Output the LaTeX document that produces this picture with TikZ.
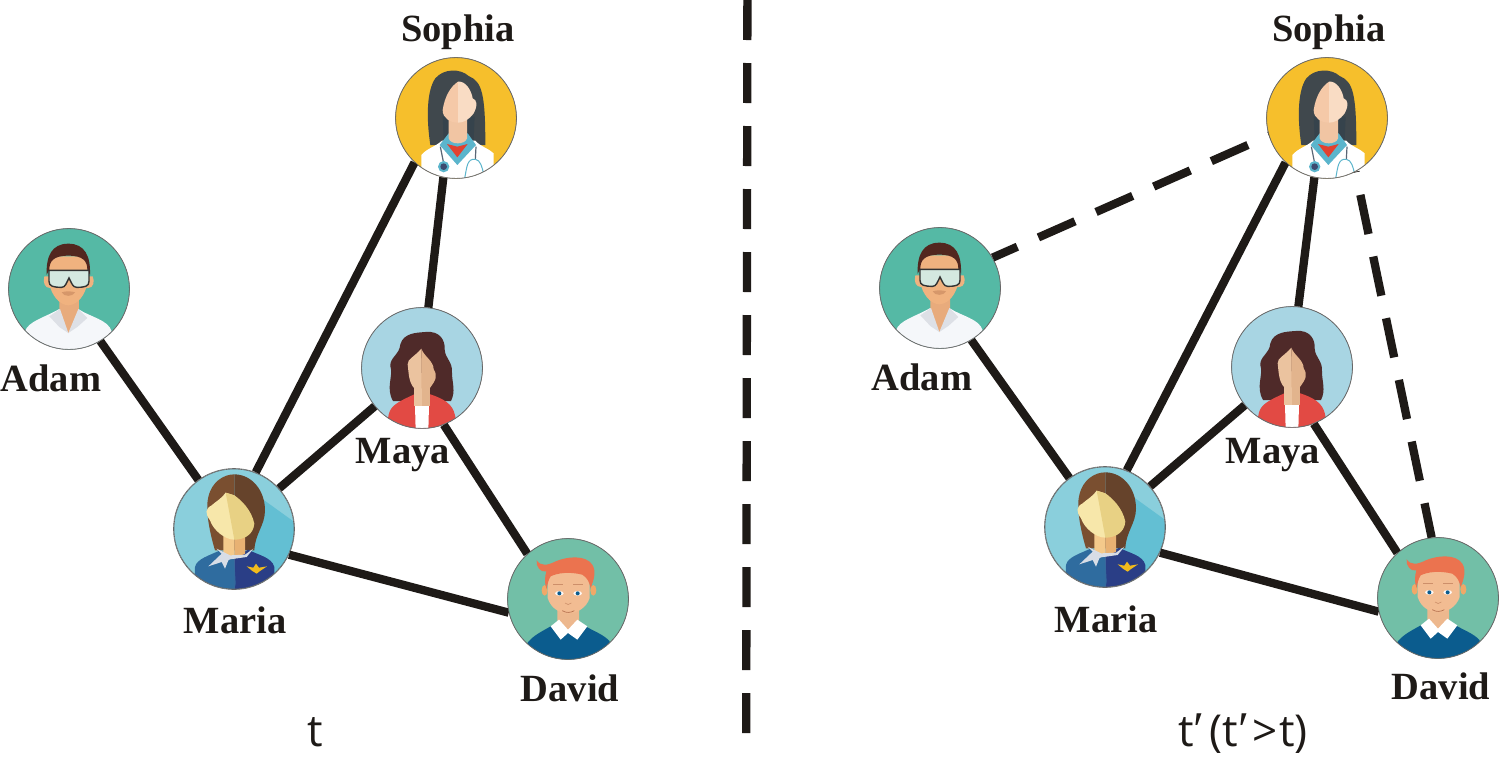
\documentclass[tikz,border=0pt]{standalone}
\usepackage{fontspec}
\setmainfont{Liberation Serif}
\newfontfamily\capfont{Open Sans}
\newfontfamily\primefont{Liberation Serif}
\newcommand{\prm}{{\primefont\fontsize{50}{50}\selectfont ′}}
\definecolor{ink}{HTML}{1E1A17}
\tikzset{
  person/.style={circle,draw=gray!80!black,line width=.6pt,minimum size=121pt,inner sep=0pt,fill=white},
  link/.style={draw=ink,line width=8.3pt},
  future/.style={draw=ink,line width=8.3pt,dash pattern=on 40pt off 23pt},
  whoname/.style={font=\fontsize{38.5}{42}\selectfont\bfseries,text=ink,inner sep=0pt,anchor=base},
  timecap/.style={font=\capfont\fontsize{44}{48}\selectfont,text=ink,inner sep=0pt,anchor=base},
}
% #1,#2 centre; #3,#4 centre in the drawing's own frame; #5 radius; #6 ground; #7 drawing
\newcommand{\faceframe}[7]{%
  \begin{scope}[shift={(#1,#2)},x=0.3333pt,y=-0.3333pt]
  \begin{scope}[shift={(-#3,-#4)}]
    \clip (#3,#4) circle (#5);
    \fill[#6] (#3,#4) circle (#5);
    #7
  \end{scope}
  \draw[gray!80!black,line width=.6pt] (0,0) circle (#5);
  \end{scope}}
\newcommand{\adamface}[2]{\faceframe{#1}{#2}{207}{208}{181}{fill=Tadam}{%
  \fill[Tadamb] (70,400)--(75,335) .. controls (85,305) and (130,295) .. (178,268) -- (235,268) .. controls (270,292) and (325,300) .. (335,335) -- (340,400)--cycle;
  \fill[Tadamn] (178,215)--(237,215)--(237,285)--(205,340)--(178,285)--cycle;
  \fill[Tadamc] (148,290)--(180,268)--(205,340)--(178,322)--cycle;
  \fill[Tadamc] (262,295)--(235,268)--(205,340)--(232,322)--cycle;
  \fill[Tadamf] (133,170) .. controls (128,190) and (135,205) .. (150,205) -- (265,205) .. controls (280,205) and (285,185) .. (278,170) -- cycle;
  \fill[Tadamf] (147,110) -- (263,110) -- (263,190) .. controls (255,225) and (235,255) .. (205,257) .. controls (175,255) and (155,225) .. (147,190) -- cycle;
  \fill[Tadamh] (140,165) .. controls (138,110) and (155,72) .. (205,72) .. controls (255,72) and (272,110) .. (270,165) -- (262,150) .. controls (262,125) and (250,108) .. (205,108) .. controls (160,108) and (148,125) .. (148,150) -- cycle;
  \fill[Tadamg,draw=black!80,line width=1.4pt] (147,152)--(267,152)--(267,185) .. controls (267,200) and (255,203) .. (230,203) .. controls (218,203) and (215,190) .. (207,175) .. controls (199,190) and (196,203) .. (185,203) .. controls (160,203) and (147,200) .. (147,185) -- cycle;
  \fill[Tadamm] (185,218) .. controls (195,214) and (215,214) .. (225,218) .. controls (218,232) and (192,232) .. (185,218) -- cycle;
}}
\newcommand{\sophiaface}[2]{\faceframe{#1}{#2}{212}{204}{181}{fill=Tsoph}{%
  \fill[Tsophh] (135,285) .. controls (122,200) and (125,120) .. (150,85) .. controls (175,55) and (225,55) .. (250,78) .. controls (290,95) and (300,130) .. (300,285) -- cycle;
  \fill[Tsophd] (172,200)--(268,200)--(265,270)--(175,270)--cycle;
  \fill[white] (108,315) .. controls (125,295) and (150,290) .. (170,272) -- (270,272) .. controls (285,290) and (310,295) .. (325,310) -- (325,400)--(108,400)--cycle;
  \fill[Tsophc] (163,285)--(190,250)--(247,250)--(272,285)--(216,345)--cycle;
  \fill[Tsophr] (185,282)--(216,290)--(247,282)--(216,322)--cycle;
  \fill[Tsophn] (190,205)--(245,205)--(245,265) .. controls (240,285) and (195,285) .. (190,265) --cycle;
  \fill[Tsophf] (218,95) .. controls (195,110) and (178,140) .. (172,180) .. controls (172,205) and (195,218) .. (218,218) -- cycle;
  \fill[Tsophl] (218,95) .. controls (240,92) and (258,120) .. (262,145) .. controls (275,150) and (278,165) .. (265,190) .. controls (250,210) and (235,218) .. (218,218) -- cycle;
  \draw[Tsophs,line width=1.2pt] (165,290)--(175,340);
  \fill[Tsophc] (175,350) circle (17);
  \fill[Tsophi] (175,350) circle (10);
  \draw[Tsophs,line width=1.2pt] (272,290)--(270,328);
  \draw[Tsophc,line width=1pt] (270,328) .. controls (245,325) and (245,350) .. (238,385);
  \draw[Tsophc,line width=1pt] (270,328) .. controls (285,330) and (290,350) .. (295,372);
}}
\newcommand{\mayaface}[2]{\faceframe{#1}{#2}{215}{201}{181}{fill=Tmaya}{%
  \fill[Tmayah] (128,300) .. controls (105,260) and (130,225) .. (120,195) .. controls (118,170) and (148,160) .. (150,130) .. controls (160,95) and (200,95) .. (225,93) .. controls (270,88) and (285,120) .. (283,145) .. controls (285,175) and (307,180) .. (305,215) .. controls (305,245) and (317,270) .. (302,300) -- cycle;
  \fill[Tmayar] (113,352) .. controls (118,320) and (125,310) .. (192,280) -- (240,280) .. controls (300,300) and (310,320) .. (316,352) -- (215,400)--cycle;
  \fill[white] (194,312)--(236,312)--(234,390)--(196,390)--cycle;
  \fill[Tmayaf] (190,240)--(215,240)--(215,315)--(190,315)--cycle;
  \fill[Tmayad] (215,240)--(238,240)--(238,315)--(215,315)--cycle;
  \fill[Tmayaf] (213,143) .. controls (195,165) and (170,175) .. (172,190) .. controls (175,215) and (175,245) .. (192,262) -- (215,262) -- cycle;
  \fill[Tmayad] (213,143) .. controls (220,165) and (250,180) .. (250,205) .. controls (262,225) and (258,235) .. (238,262) -- (213,262) -- cycle;
}}
\newcommand{\mariaface}[2]{\faceframe{#1}{#2}{207}{206}{180}{fill=Tmari}{%
  \fill[Tmarid] (270,100)--(395,190)--(395,395)--(250,395)--cycle;
  \fill[Tmarih] (150,270) .. controls (135,220) and (120,150) .. (130,110) .. controls (140,65) and (175,42) .. (208,42) -- (208,270) -- cycle;
  \fill[Tmarik] (208,42) .. controls (260,42) and (300,90) .. (300,150) .. controls (300,195) and (270,220) .. (268,270) -- (208,270) -- cycle;
  \fill[Tmarib] (88,400)--(90,320) .. controls (95,295) and (135,285) .. (165,270) -- (208,290)--(208,400)--cycle;
  \fill[Tmarin] (208,290)--(250,268) .. controls (280,285) and (320,290) .. (328,320) -- (328,400)--(208,400)--cycle;
  \fill[Tmaril] (175,215)--(208,215)--(208,295)--(175,280)--cycle;
  \fill[Tmarim] (208,215)--(240,215)--(240,280)--(208,295)--cycle;
  \fill[Tmarie] (182,97) .. controls (170,115) and (150,125) .. (140,135) .. controls (120,145) and (120,160) .. (135,180) .. controls (145,210) and (180,238) .. (208,238) -- (208,105) -- cycle;
  \fill[Tmarig] (182,97) -- (208,105) .. controls (230,120) and (260,150) .. (268,190) .. controls (265,225) and (235,238) .. (208,238) -- cycle;
  \fill[Tmaris] (155,265)--(195,285)--(240,283)--(265,265)--(245,290)--(195,297)--(190,300)--(180,325)--(170,305)--(130,318)--(170,280)--cycle;
  \fill[Tmaria] (245,318)--(265,322)--(273,310)--(282,322)--(306,318)--(285,332)--(275,340)--(262,332)--cycle;
  \fill[Tmarib] (208,300)--(212,370)--(208,388)--cycle;
}}
\newcommand{\davidface}[2]{\faceframe{#1}{#2}{207}{208}{181}{fill=Tdavi}{%
  \fill[Tdavib] (85,340) .. controls (105,315) and (130,305) .. (155,290) -- (260,290) .. controls (285,305) and (315,315) .. (332,335) -- (332,400)--(85,400)--cycle;
  \fill[Tdavin] (175,235)--(240,235)--(240,285)--(207,302)--(175,285)--cycle;
  \fill[white] (155,290)--(180,270)--(207,300)--(235,270)--(265,290)--(235,330)--(207,310)--(185,330)--cycle;
  \fill[Tdavie] (137,182) ellipse (9 and 16);
  \fill[Tdavie] (283,182) ellipse (9 and 16);
  \fill[Tdavif] (146,130)--(272,130)--(272,205) .. controls (262,235) and (235,250) .. (208,252) .. controls (180,250) and (155,235) .. (146,205) -- cycle;
  \fill[Tdavih] (113,92) .. controls (125,110) and (145,108) .. (170,95) .. controls (205,80) and (260,75) .. (280,105) .. controls (292,125) and (285,150) .. (275,175) .. controls (270,155) and (265,145) .. (250,135) .. controls (210,125) and (175,130) .. (155,140) .. controls (148,150) and (145,165) .. (143,178) .. controls (135,160) and (138,140) .. (142,125) .. controls (125,130) and (110,110) .. (113,92) -- cycle;
  \draw[Tdavir!60!Tdavif,line width=.7pt] (163,165)--(192,165);
  \draw[Tdavir!60!Tdavif,line width=.7pt] (222,165)--(252,165);
  \fill[white!90!Tdavif] (181,191) ellipse (13 and 7);
  \fill[white!90!Tdavif] (236,191) ellipse (13 and 7);
  \fill[Tdavib] (181,191) circle (6);
  \fill[Tdavib] (236,191) circle (6);
  \draw[Tdavir!60!Tdavif,line width=.6pt] (198,220) .. controls (203,226) and (212,226) .. (217,220);
  \draw[Tdavir,line width=.7pt] (190,243) .. controls (200,250) and (215,250) .. (226,243);
}}
\definecolor{Tadam}{HTML}{55B9A5}\definecolor{Tadamb}{HTML}{F5F7FA}\definecolor{Tadamn}{HTML}{E8AB7C}\definecolor{Tadamc}{HTML}{DDE0E6}\definecolor{Tadamf}{HTML}{F0B27F}\definecolor{Tadamh}{HTML}{52271F}\definecolor{Tadamg}{HTML}{D4E8E0}\definecolor{Tadamm}{HTML}{D6976A}
\definecolor{Tsoph}{HTML}{F6BF2C}\definecolor{Tsophh}{HTML}{40484D}\definecolor{Tsophd}{HTML}{36434C}\definecolor{Tsophc}{HTML}{5BB5CC}\definecolor{Tsophr}{HTML}{E2412F}\definecolor{Tsophn}{HTML}{F1C5A3}\definecolor{Tsophf}{HTML}{F5C9A8}\definecolor{Tsophl}{HTML}{F9DCC4}\definecolor{Tsophs}{HTML}{5A6675}\definecolor{Tsophi}{HTML}{3D4A70}
\definecolor{Tmaya}{HTML}{A8D5E3}\definecolor{Tmayah}{HTML}{4F2A29}\definecolor{Tmayar}{HTML}{E24A44}\definecolor{Tmayaf}{HTML}{EBC39F}\definecolor{Tmayad}{HTML}{E2B48D}
\definecolor{Tmari}{HTML}{8ACFDC}\definecolor{Tmarid}{HTML}{63BFD3}\definecolor{Tmarih}{HTML}{7A4F30}\definecolor{Tmarik}{HTML}{66432B}\definecolor{Tmarib}{HTML}{2F6C9F}\definecolor{Tmarin}{HTML}{2A3E86}\definecolor{Tmaril}{HTML}{F4C98B}\definecolor{Tmarim}{HTML}{E8B173}\definecolor{Tmarie}{HTML}{F7E7AA}\definecolor{Tmarig}{HTML}{E8D184}\definecolor{Tmaris}{HTML}{D8DDE6}\definecolor{Tmaria}{HTML}{F2BB1C}
\definecolor{Tdavi}{HTML}{72BFA7}\definecolor{Tdavib}{HTML}{0B5C8E}\definecolor{Tdavin}{HTML}{EDB88E}\definecolor{Tdavie}{HTML}{F0A868}\definecolor{Tdavif}{HTML}{F2BC92}\definecolor{Tdavih}{HTML}{EB734F}\definecolor{Tdavir}{HTML}{B5714F}
\begin{document}
\begin{tikzpicture}[x=1pt,y=-1pt]
\useasboundingbox (0,0) rectangle (1499,758);
% left panel
\node[person] (adamL) at (69,289) {};
\node[person] (sophiaL) at (456,118) {};
\node[person] (mayaL) at (422,368) {};
\node[person] (mariaL) at (234,529) {};
\node[person] (davidL) at (568,599) {};
\draw[link] (adamL.-59) -- (mariaL.126);
\draw[link] (mariaL.69) -- (sophiaL.227);
\draw[link] (sophiaL.258) -- (mayaL.84);
\draw[link] (mayaL.219) -- (mariaL.42);
\draw[link] (mayaL.-69) -- (davidL.132);
\draw[link] (mariaL.-25) -- (davidL.193);
\adamface{69}{289}\sophiaface{456}{118}\mayaface{422}{368}\mariaface{234}{529}\davidface{568}{599}
\node[whoname] (nSophiaL) at (458,41) {Sophia};
\node[whoname] (nAdamL) at (51,391) {Adam};
\node[whoname] (nMayaL) at (403,463) {Maya};
\node[whoname] (nMariaL) at (235,633) {Maria};
\node[whoname] (nDavidL) at (570,701) {David};
\node[timecap] (capL) at (315,746) {t};
% divider
\coordinate (divTop) at (747.4,0);
\coordinate (divBot) at (746.2,733);
\draw[future] (divTop) -- (divBot);
% right panel
\node[person] (adamR) at (940,288) {};
\node[person] (sophiaR) at (1327,118) {};
\node[person] (mayaR) at (1292,367) {};
\node[person] (mariaR) at (1105,527) {};
\node[person] (davidR) at (1438,598) {};
\draw[link] (adamR.-59) -- (mariaR.126);
\draw[link] (mariaR.69) -- (sophiaR.227);
\draw[link] (sophiaR.258) -- (mayaR.84);
\draw[link] (mayaR.219) -- (mariaR.42);
\draw[link] (mayaR.-69) -- (davidR.132);
\draw[link] (mariaR.-25) -- (davidR.193);
\draw[future,dash phase=13pt,shorten >=-8pt] (adamR.30) -- (sophiaR.197);
\draw[future,dash phase=5pt] (davidR.96) -- (sophiaR.-62);
\adamface{940}{288}\sophiaface{1327}{118}\mayaface{1292}{367}\mariaface{1105}{527}\davidface{1438}{598}
\node[whoname] (nSophiaR) at (1329,41) {Sophia};
\node[whoname] (nAdamR) at (922,390) {Adam};
\node[whoname] (nMayaR) at (1273,463) {Maya};
\node[whoname] (nMariaR) at (1106,632) {Maria};
\node[whoname] (nDavidR) at (1441,699) {David};
\node[timecap] (capR) at (1243,746) {t\prm\hspace{5pt}(t\prm\hspace{3pt}>\hspace{2pt}t)};
\end{tikzpicture}
\end{document}
